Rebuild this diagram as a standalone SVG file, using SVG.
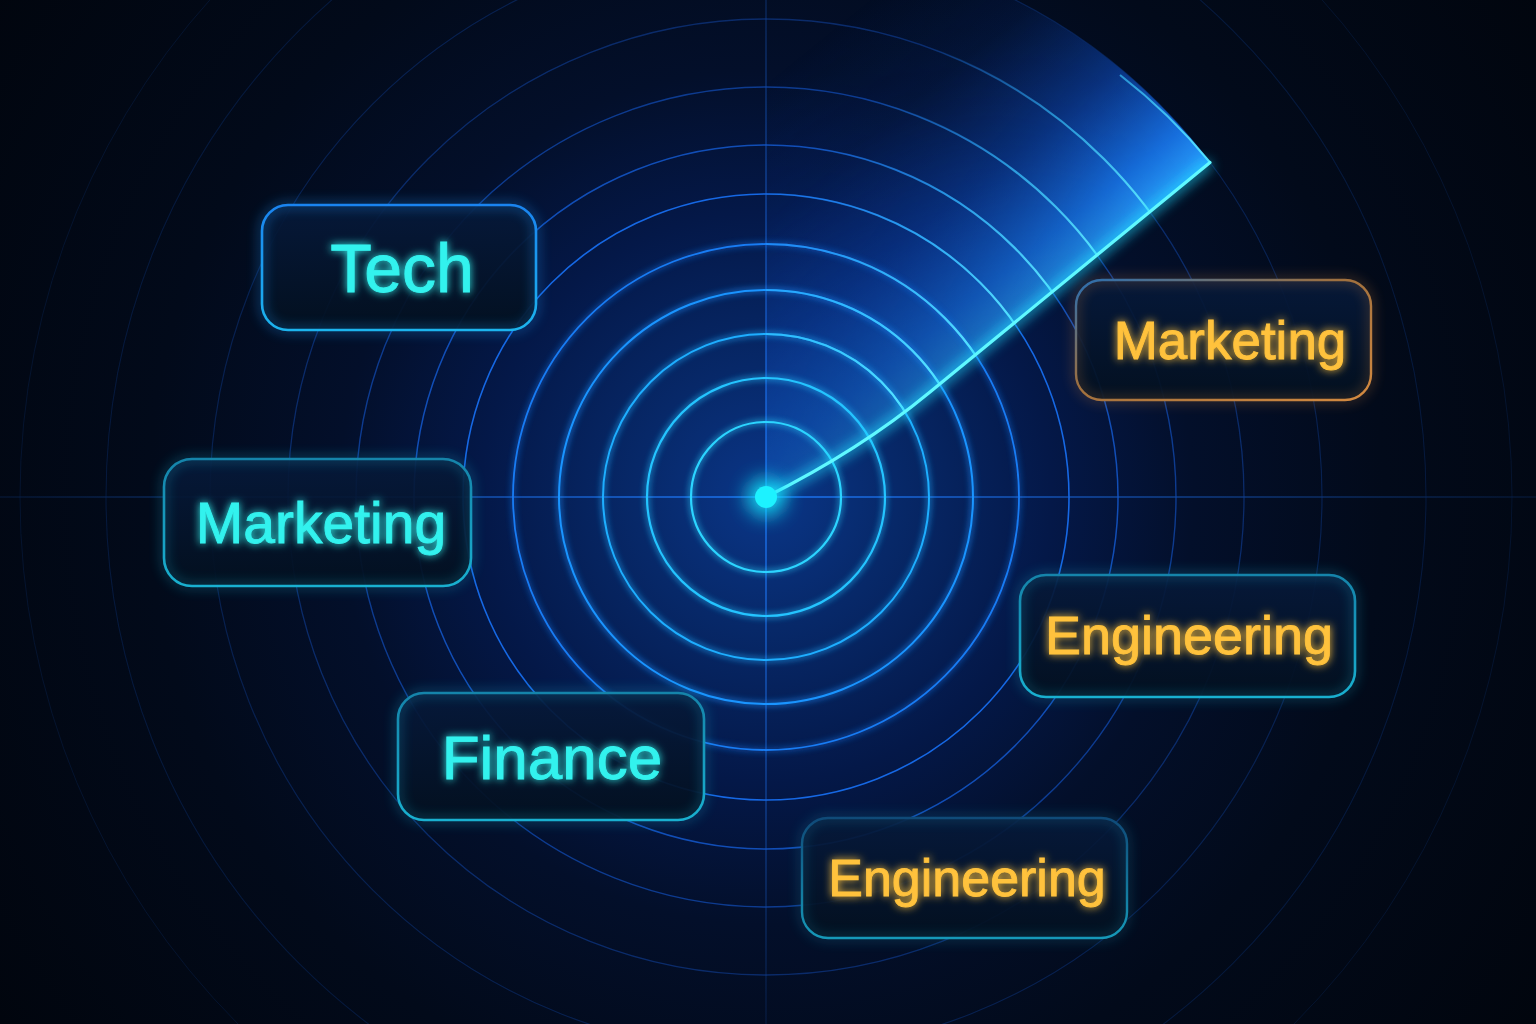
<svg xmlns="http://www.w3.org/2000/svg" width="1536" height="1024" viewBox="0 0 1536 1024">
<defs>
<style>
.lbl{font-family:"Liberation Sans","Noto Sans",Arial,sans-serif;text-anchor:middle;stroke-width:0.9}
.cy{fill:#33f2ee;stroke:#33f2ee}
.or{fill:#ffc23c;stroke:#ffc23c}
.boxfill{fill:url(#boxFill)}
.ring{fill:none}
</style>
<radialGradient id="bg" gradientUnits="userSpaceOnUse" cx="766" cy="497" r="950">
<stop offset="0" stop-color="#0a3688"/>
<stop offset="0.14" stop-color="#072868"/>
<stop offset="0.3" stop-color="#041848"/>
<stop offset="0.45" stop-color="#030f2a"/>
<stop offset="0.65" stop-color="#020a1a"/>
<stop offset="1" stop-color="#01050d"/>
</radialGradient>
<linearGradient id="sweepL" gradientUnits="userSpaceOnUse" x1="1000" y1="335" x2="760" y2="38">
<stop offset="0" stop-color="#2aa4ff" stop-opacity="1"/>
<stop offset="0.12" stop-color="#1a80ff" stop-opacity="0.85"/>
<stop offset="0.35" stop-color="#1260f0" stop-opacity="0.45"/>
<stop offset="0.62" stop-color="#0c48c8" stop-opacity="0.12"/>
<stop offset="0.9" stop-color="#0a3ab0" stop-opacity="0"/>
</linearGradient>
<radialGradient id="sweepMaskG" gradientUnits="userSpaceOnUse" cx="766" cy="497" r="556">
<stop offset="0" stop-color="#fff" stop-opacity="0.25"/>
<stop offset="0.4" stop-color="#fff" stop-opacity="0.6"/>
<stop offset="0.85" stop-color="#fff" stop-opacity="0.95"/>
<stop offset="1" stop-color="#fff" stop-opacity="1"/>
</radialGradient>
<mask id="sweepMask" maskUnits="userSpaceOnUse" x="0" y="-100" width="1536" height="700">
<rect x="0" y="-100" width="1536" height="700" fill="url(#sweepMaskG)"/>
</mask>
<linearGradient id="vAxis" x1="0" y1="0" x2="0" y2="1024" gradientUnits="userSpaceOnUse">
<stop offset="0" stop-color="#1a5fd0" stop-opacity="0.3"/>
<stop offset="0.49" stop-color="#1e7cff" stop-opacity="0.9"/>
<stop offset="1" stop-color="#1a5fd0" stop-opacity="0.15"/>
</linearGradient>
<linearGradient id="hAxis" x1="0" y1="0" x2="1536" y2="0" gradientUnits="userSpaceOnUse">
<stop offset="0" stop-color="#1a5fd0" stop-opacity="0.15"/>
<stop offset="0.5" stop-color="#1e7cff" stop-opacity="0.9"/>
<stop offset="1" stop-color="#1a5fd0" stop-opacity="0.15"/>
</linearGradient>
<linearGradient id="boxFill" x1="0" y1="0" x2="0" y2="1">
<stop offset="0" stop-color="#06193a" stop-opacity="0.92"/>
<stop offset="1" stop-color="#03101f" stop-opacity="0.94"/>
</linearGradient>
<linearGradient id="stTech" x1="0" y1="0" x2="0" y2="1">
<stop offset="0" stop-color="#1a84f0"/>
<stop offset="1" stop-color="#1cb4ee"/>
</linearGradient>
<linearGradient id="stTeal" x1="0" y1="0" x2="0" y2="1">
<stop offset="0" stop-color="#1584aa"/>
<stop offset="1" stop-color="#19b0d0"/>
</linearGradient>
<linearGradient id="stEngB" x1="0" y1="0" x2="0" y2="1">
<stop offset="0" stop-color="#0f4a78"/>
<stop offset="1" stop-color="#1698b8"/>
</linearGradient>
<linearGradient id="stOrange" x1="0" y1="0" x2="1" y2="1">
<stop offset="0" stop-color="#2a6eb0"/>
<stop offset="0.45" stop-color="#a0703e"/>
<stop offset="1" stop-color="#d48a40"/>
</linearGradient>
<linearGradient id="ringSweep" gradientUnits="userSpaceOnUse" x1="1000" y1="335" x2="830" y2="125">
<stop offset="0" stop-color="#5ae6ff" stop-opacity="1"/>
<stop offset="0.5" stop-color="#38c8ff" stop-opacity="0.6"/>
<stop offset="1" stop-color="#2aa0ff" stop-opacity="0"/>
</linearGradient>
<clipPath id="wedgeClip">
<path d="M766,497 Q860,450 930,392 L1210,162.4 A556,556 0 0 0 766,-59 Z"/>
</clipPath>
<filter id="blur6" x="-20%" y="-20%" width="140%" height="140%"><feGaussianBlur stdDeviation="6"/></filter>
<filter id="blur3" x="-20%" y="-20%" width="140%" height="140%"><feGaussianBlur stdDeviation="3"/></filter>
<filter id="textGlow" x="-20%" y="-40%" width="140%" height="180%">
<feGaussianBlur in="SourceGraphic" stdDeviation="4" result="b"/>
<feMerge><feMergeNode in="b"/><feMergeNode in="SourceGraphic"/></feMerge>
</filter>
<filter id="dotGlow" x="-200%" y="-200%" width="500%" height="500%"><feGaussianBlur stdDeviation="9"/></filter>
</defs>

<rect width="1536" height="1024" fill="url(#bg)"/>

<g id="radar">
<g id="axes">
<line x1="766" y1="0" x2="766" y2="1024" stroke="url(#vAxis)" stroke-width="1.4"/>
<line x1="0" y1="497" x2="1536" y2="497" stroke="url(#hAxis)" stroke-width="1.4"/>
</g>
<g id="sweep-fill" mask="url(#sweepMask)">
<path d="M766,497 Q860,450 930,392 L1210,162.4 A556,556 0 0 0 766,-59 Z" fill="url(#sweepL)"/>
</g>
<g id="rings-glow" filter="url(#blur3)" opacity="0.7">
<circle class="ring" cx="766" cy="497" r="75" stroke="#28d0ff" stroke-width="4"/>
<circle class="ring" cx="766" cy="497" r="119" stroke="#22c0ff" stroke-width="4"/>
<circle class="ring" cx="766" cy="497" r="163" stroke="#1eaaff" stroke-width="4"/>
<circle class="ring" cx="766" cy="497" r="207" stroke="#1a90ff" stroke-width="4"/>
<circle class="ring" cx="766" cy="497" r="253" stroke="#1878f0" stroke-width="3"/>
</g>
<g id="rings">
<circle class="ring" cx="766" cy="497" r="75" stroke="#2cd4ff" stroke-width="2.2"/>
<circle class="ring" cx="766" cy="497" r="119" stroke="#24c4ff" stroke-width="2.2"/>
<circle class="ring" cx="766" cy="497" r="163" stroke="#1eaeff" stroke-width="2"/>
<circle class="ring" cx="766" cy="497" r="207" stroke="#1a94ff" stroke-width="2"/>
<circle class="ring" cx="766" cy="497" r="253" stroke="#187cf4" stroke-width="1.8"/>
<circle class="ring" cx="766" cy="497" r="303" stroke="#1668e4" stroke-width="1.6"/>
<circle class="ring" cx="766" cy="497" r="352" stroke="#1458cc" stroke-width="1.5" opacity="0.85"/>
<circle class="ring" cx="766" cy="497" r="410" stroke="#124ab0" stroke-width="1.4" opacity="0.75"/>
<circle class="ring" cx="766" cy="497" r="478" stroke="#103f98" stroke-width="1.3" opacity="0.6"/>
<circle class="ring" cx="766" cy="497" r="556" stroke="#0e3680" stroke-width="1.2" opacity="0.5"/>
<circle class="ring" cx="766" cy="497" r="660" stroke="#0c2c68" stroke-width="1.1" opacity="0.45"/>
<circle class="ring" cx="766" cy="497" r="746" stroke="#0a2656" stroke-width="1" opacity="0.4"/>
</g>
<g id="sweep">
<g clip-path="url(#wedgeClip)" fill="none" stroke="url(#ringSweep)" stroke-width="2.2">
<circle cx="766" cy="497" r="163"/>
<circle cx="766" cy="497" r="207"/>
<circle cx="766" cy="497" r="253"/>
<circle cx="766" cy="497" r="303"/>
<circle cx="766" cy="497" r="352"/>
<circle cx="766" cy="497" r="410"/>
<circle cx="766" cy="497" r="478"/>
</g>
<path d="M1210,162.4 A556,556 0 0 0 1120,75" fill="none" stroke="url(#ringSweep)" stroke-width="2.2"/>
<path d="M766,497 Q860,450 930,392 L1210,162.4" fill="none" stroke="#1ad8ff" stroke-width="12" opacity="0.55" filter="url(#blur6)"/>
<path d="M766,497 Q860,450 930,392 L1210,162.4" fill="none" stroke="#5ff8ff" stroke-width="3.2" stroke-linecap="round"/>
</g>
<circle cx="766" cy="497" r="20" fill="#19e8ff" opacity="0.8" filter="url(#dotGlow)"/>
<circle cx="766" cy="497" r="11" fill="#1df2ff"/>
</g>

<g id="connectors"/>

<g id="node-tech">
<rect x="262" y="205" width="274" height="125" rx="26" class="boxfill"/>
<rect x="262" y="205" width="274" height="125" rx="26" fill="none" stroke="#1a9cff" stroke-width="7" opacity="0.35" filter="url(#blur6)"/>
<rect x="262" y="205" width="274" height="125" rx="26" fill="none" stroke="url(#stTech)" stroke-width="2.6"/>
<text class="lbl cy" x="402" y="292" font-size="68" filter="url(#textGlow)">Tech</text>
</g>

<g id="node-marketing-left">
<rect x="164" y="459" width="307" height="127" rx="28" class="boxfill"/>
<rect x="164" y="459" width="307" height="127" rx="28" fill="none" stroke="#18b0d0" stroke-width="7" opacity="0.3" filter="url(#blur6)"/>
<rect x="164" y="459" width="307" height="127" rx="28" fill="none" stroke="url(#stTeal)" stroke-width="2.6"/>
<text class="lbl cy" x="321" y="543" font-size="57" filter="url(#textGlow)">Marketing</text>
</g>

<g id="node-marketing-right">
<rect x="1076" y="280" width="295" height="120" rx="26" class="boxfill"/>
<rect x="1076" y="280" width="295" height="120" rx="26" fill="none" stroke="#c07a3a" stroke-width="7" opacity="0.3" filter="url(#blur6)"/>
<rect x="1076" y="280" width="295" height="120" rx="26" fill="none" stroke="url(#stOrange)" stroke-width="2.4"/>
<text class="lbl or" x="1230" y="359" font-size="53" filter="url(#textGlow)">Marketing</text>
</g>

<g id="node-engineering-right">
<rect x="1020" y="575" width="335" height="122" rx="26" class="boxfill"/>
<rect x="1020" y="575" width="335" height="122" rx="26" fill="none" stroke="#18a8c8" stroke-width="7" opacity="0.3" filter="url(#blur6)"/>
<rect x="1020" y="575" width="335" height="122" rx="26" fill="none" stroke="url(#stTeal)" stroke-width="2.6"/>
<text class="lbl or" x="1189" y="654" font-size="54" filter="url(#textGlow)">Engineering</text>
</g>

<g id="node-finance">
<rect x="398" y="693" width="306" height="127" rx="26" class="boxfill"/>
<rect x="398" y="693" width="306" height="127" rx="26" fill="none" stroke="#18b0d8" stroke-width="7" opacity="0.3" filter="url(#blur6)"/>
<rect x="398" y="693" width="306" height="127" rx="26" fill="none" stroke="url(#stTeal)" stroke-width="2.6"/>
<text class="lbl cy" x="552" y="779" font-size="62" filter="url(#textGlow)">Finance</text>
</g>

<g id="node-engineering-bottom">
<rect x="802" y="818" width="325" height="120" rx="26" class="boxfill"/>
<rect x="802" y="818" width="325" height="120" rx="26" fill="none" stroke="#1690b0" stroke-width="7" opacity="0.28" filter="url(#blur6)"/>
<rect x="802" y="818" width="325" height="120" rx="26" fill="none" stroke="url(#stEngB)" stroke-width="2.4"/>
<text class="lbl or" x="967" y="896" font-size="52" filter="url(#textGlow)">Engineering</text>
</g>
</svg>
